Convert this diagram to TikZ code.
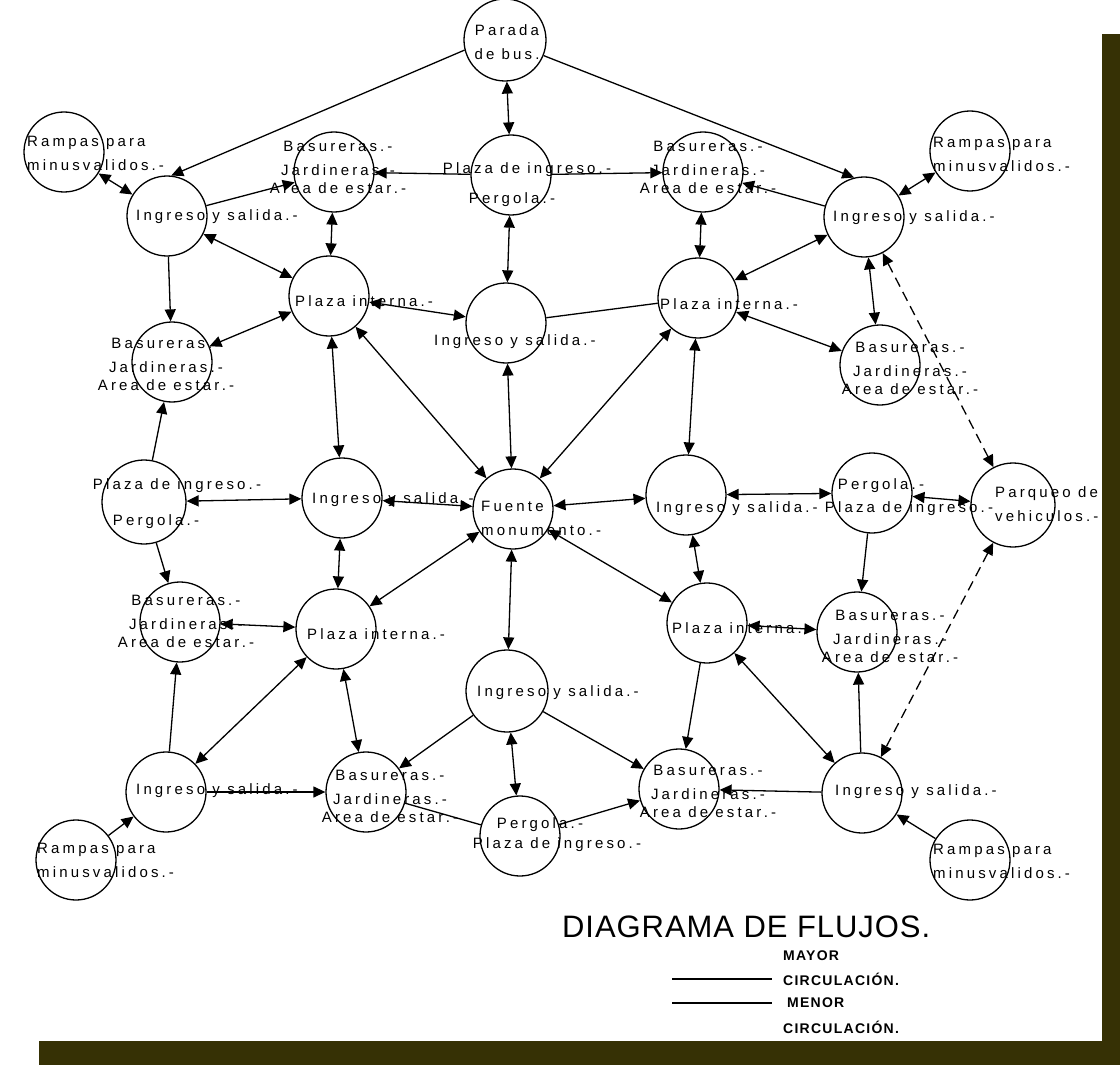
\documentclass[tikz,border=0pt]{standalone}
\usepackage{fontspec}
\usepackage{tikz}
\usetikzlibrary{arrows.meta, positioning}
\newfontfamily\cadfont{Liberation Sans}[LetterSpace=21]
\newfontfamily\titlefont{Liberation Sans}[LetterSpace=3]
\newfontfamily\legfont{Liberation Sans}[LetterSpace=9]
\definecolor{framebar}{HTML}{363105}

\begin{document}
\begin{tikzpicture}[x=1pt, y=-1pt,
    % circulos de zonas
    zone/.style={circle, draw, line width=1.3pt, minimum size=80pt, inner sep=0pt},
    % textos
    tag/.style={font=\cadfont\fontsize{15}{24}\selectfont, inner sep=0pt, align=left},
    ctag/.style={tag, align=center},
    % flujos
    link/.style={line width=1.3pt},
    oneway/.style={link, -{Triangle[length=12pt, width=11pt]}},
    twoway/.style={link, {Triangle[length=12pt, width=11pt]}-{Triangle[length=12pt, width=11pt]}},
    dashway/.style={twoway, dash pattern=on 10pt off 6pt}
]
    \useasboundingbox (0,0) rectangle (1120,1070);

    % --- MARCO ---
    \fill[framebar] (1102,34) rectangle (1120,1065);
    \fill[framebar] (39,1041) rectangle (1120,1065);

    % --- FILA 1 ---
    \node[zone, minimum size=82pt] (parada) at (505,40) {};
    \node[ctag] (parada-t) at (507,42) {Parada\\de bus.};
    \node[zone] (rampTL) at (64,152) {};
    \node[tag, anchor=west] (rampTL-t) at (27,153) {Rampas para\\minusvalidos.-};
    \node[zone] (rampTR) at (970,151) {};
    \node[tag, anchor=west] (rampTR-t) at (933,154) {Rampas para\\minusvalidos.-};
    \node[zone] (isTL) at (167,216) {};
    \node[tag, anchor=west] (isTL-t) at (136,217) {Ingreso y salida.-};
    \node[zone] (isTR) at (864,217) {};
    \node[tag, anchor=west] (isTR-t) at (833,218) {Ingreso y salida.-};
    \node[zone] (basTL) at (334,172) {};
    \node[ctag] (basTL-t) at (338,167) {Basureras.-\\Jardineras.-\\[-6pt]Area de estar.-};
    \node[zone] (basTR) at (703,172) {};
    \node[ctag] (basTR-t) at (708,167) {Basureras.-\\Jardineras.-\\[-6pt]Area de estar.-};
    \node[zone] (pzTop) at (511,175) {};
    \node[tag] (pzTop-a) at (527,170) {Plaza de ingreso.-};
    \node[tag] (pzTop-b) at (512,200) {Pergola.-};

    % --- FILA 2 ---
    \node[zone] (piTL) at (329,296) {};
    \node[tag, anchor=west] (piTL-t) at (295,301) {Plaza interna.-};
    \node[zone] (isC) at (506,323) {};
    \node[tag, anchor=west] (isC-t) at (434,342) {Ingreso y salida.-};
    \node[zone] (piTR) at (698,298) {};
    \node[tag, anchor=west] (piTR-t) at (660,304) {Plaza interna.-};
    \node[zone] (basL) at (172,362) {};
    \node[ctag] (basL-t) at (166,364) {Basureras.-\\Jardineras.-\\[-6pt]Area de estar.-};
    \node[zone] (basR) at (880,365) {};
    \node[ctag] (basR-t) at (910,368) {Basureras.-\\Jardineras.-\\[-6pt]Area de estar.-};

    % --- FILA 3 ---
    \node[zone, minimum size=84pt] (pzL) at (144,502) {};
    \node[tag] (pzL-a) at (177,486) {Plaza de ingreso.-};
    \node[tag] (pzL-b) at (156,522) {Pergola.-};
    \node[zone] (isML) at (342,498) {};
    \node[tag, anchor=west] (isML-t) at (312,500) {Ingreso y salida.-};
    \node[zone] (fuente) at (513,509) {};
    \node[tag, anchor=west] (fuente-t) at (481,518) {Fuente\\monumento.-};
    \node[zone] (isMR) at (686,495) {};
    \node[tag, anchor=west] (isMR-t) at (656,509) {Ingreso y salida.-};
    \node[zone] (pzR) at (872,493) {};
    \node[tag] (pzR-a) at (881,486) {Pergola.-};
    \node[tag] (pzR-b) at (909,509) {Plaza de ingreso.-};
    \node[zone, minimum size=84pt] (parqueo) at (1013,505) {};
    \node[tag, anchor=west] (parqueo-t) at (995,504) {Parqueo de\\vehiculos.-};

    % --- FILA 4 ---
    \node[zone] (basLL) at (180,622) {};
    \node[ctag] (basLL-t) at (186,621) {Basureras.-\\Jardineras.-\\[-6pt]Area de estar.-};
    \node[zone] (piLL) at (336,629) {};
    \node[tag, anchor=west] (piLL-t) at (307,634) {Plaza interna.-};
    \node[zone] (piLR) at (707,623) {};
    \node[tag, anchor=west] (piLR-t) at (672,628) {Plaza interna.-};
    \node[zone] (basLR) at (857,632) {};
    \node[ctag] (basLR-t) at (890,636) {Basureras.-\\Jardineras.-\\[-6pt]Area de estar.-};
    \node[zone, minimum size=82pt] (isB) at (507,691) {};
    \node[tag, anchor=west] (isB-t) at (477,693) {Ingreso y salida.-};

    % --- FILA 5 ---
    \node[zone] (isBL) at (166,792) {};
    \node[tag, anchor=west] (isBL-t) at (136,791) {Ingreso y salida.-};
    \node[zone] (basBL) at (366,792) {};
    \node[ctag] (basBL-t) at (390,796) {Basureras.-\\Jardineras.-\\[-6pt]Area de estar.-};
    \node[zone] (pzB) at (520,836) {};
    \node[tag] (pzB-a) at (540,825) {Pergola.-};
    \node[tag] (pzB-b) at (557,845) {Plaza de ingreso.-};
    \node[zone] (basBR) at (679,789) {};
    \node[ctag] (basBR-t) at (708,791) {Basureras.-\\Jardineras.-\\[-6pt]Area de estar.-};
    \node[zone] (isBR) at (862,793) {};
    \node[tag, anchor=west] (isBR-t) at (835,792) {Ingreso y salida.-};
    \node[zone] (rampBL) at (76,860) {};
    \node[tag, anchor=west] (rampBL-t) at (37,860) {Rampas para\\minusvalidos.-};
    \node[zone] (rampBR) at (970,860) {};
    \node[tag, anchor=west] (rampBR-t) at (933,861) {Rampas para\\minusvalidos.-};

    % --- FLUJOS EN DOS SENTIDOS ---
    \draw[twoway] (parada) -- (pzTop);
    \draw[twoway] (rampTL) -- (isTL);
    \draw[twoway] (basTL) -- (piTL);
    \draw[twoway] (isTL) -- (piTL);
    \draw[twoway] (piTL) -- (basL);
    \draw[twoway] (pzTop) -- (isC);
    \draw[twoway] (piTL) -- (isC);
    \draw[twoway] (piTL) -- (isML);
    \draw[twoway] (fuente) -- (piTL);
    \draw[twoway] (isC) -- (fuente);
    \draw[twoway] (basTR) -- (piTR);
    \draw[twoway] (isTR) -- (piTR);
    \draw[twoway] (isTR) -- (rampTR);
    \draw[twoway] (isTR) -- (basR);
    \draw[twoway] (piTR) -- (basR);
    \draw[twoway] (piTR) -- (isMR);
    \draw[twoway] (piTR) -- (fuente);
    \draw[twoway] (fuente) -- (isML);
    \draw[twoway] (pzL) -- (isML);
    \draw[twoway] (basLL) -- (piLL);
    \draw[twoway] (isML) -- (piLL);
    \draw[twoway] (fuente) -- (piLL);
    \draw[twoway] (fuente) -- (isMR);
    \draw[twoway] (fuente) -- (isB);
    \draw[twoway] (fuente) -- (piLR);
    \draw[twoway] (isMR) -- (pzR);
    \draw[twoway] (isMR) -- (piLR);
    \draw[twoway] (pzR) -- (parqueo);
    \draw[twoway] (piLR) -- (basLR);
    \draw[twoway] (piLR) -- (isBR);
    \draw[twoway] (isB) -- (pzB);
    \draw[twoway] (piLL) -- (isBL);
    \draw[twoway] (piLL) -- (basBL);
    \draw[dashway] (isTR) -- (parqueo);
    \draw[dashway] (parqueo) -- (isBR);

    % --- FLUJOS EN UN SENTIDO ---
    \draw[oneway] (parada.194) -- (isTL.84);
    \draw[oneway] (parada.338) -- (isTR.104);
    \draw[oneway] (isTL) -- (basTL);
    \draw[oneway] (pzTop) -- (basTL);
    \draw[oneway] (isTL) -- (basL);
    \draw[oneway] (pzTop) -- (basTR);
    \draw[oneway] (isTR) -- (basTR);
    \draw[oneway] (pzL) -- (basL);
    \draw[oneway] (pzL) -- (basLL);
    \draw[oneway] (pzR) -- (basLR);
    \draw[oneway] (piLR) -- (basBR);
    \draw[oneway] (isBR) -- (basLR);
    \draw[oneway] (isBR) -- (basBR);
    \draw[oneway] (rampBR) -- (isBR);
    \draw[oneway] (isB) -- (basBR);
    \draw[oneway] (isB) -- (basBL);
    \draw[oneway] (pzB) -- (basBR);
    \draw[oneway] (isBL) -- (basBL);
    \draw[oneway] (isBL) -- (basLL);
    \draw[oneway] (rampBL) -- (isBL);

    % --- SIN FLECHA ---
    \draw[link] (isC) -- (piTR);
    \draw[link] (pzB) -- (basBL);

    % --- LEYENDA ---
    \node[font=\titlefont\fontsize{31}{31}\selectfont, anchor=base west, inner sep=0pt] (titulo) at (562,937) {DIAGRAMA DE FLUJOS.};
    \coordinate (mayA) at (672,979);
    \coordinate (mayB) at (772,979);
    \coordinate (menA) at (672,1003);
    \coordinate (menB) at (772,1003);
    \draw[link] (mayA) -- (mayB);
    \draw[link] (menA) -- (menB);
    \node[font=\legfont\bfseries\fontsize{14}{14}\selectfont, anchor=base west, inner sep=0pt] (mayor) at (783,960) {MAYOR};
    \node[font=\legfont\bfseries\fontsize{14}{14}\selectfont, anchor=base west, inner sep=0pt] (circ1) at (783,985) {CIRCULACIÓN.};
    \node[font=\legfont\bfseries\fontsize{14}{14}\selectfont, anchor=base west, inner sep=0pt] (menor) at (787,1007) {MENOR};
    \node[font=\legfont\bfseries\fontsize{14}{14}\selectfont, anchor=base west, inner sep=0pt] (circ2) at (783,1033) {CIRCULACIÓN.};

\end{tikzpicture}
\end{document}
